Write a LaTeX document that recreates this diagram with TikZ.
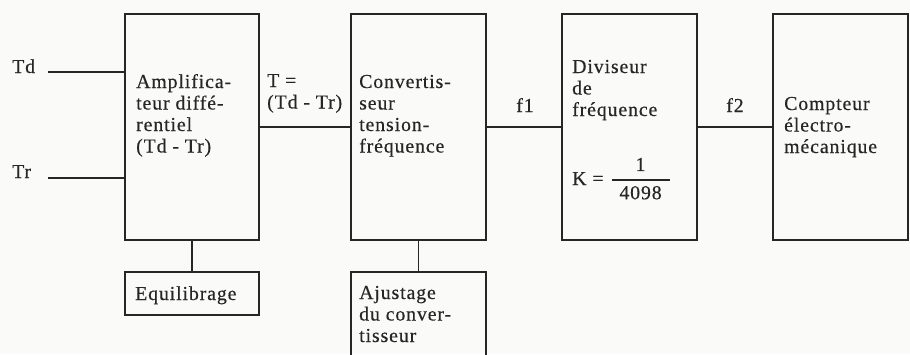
\documentclass[tikz,border=0pt]{standalone}
\usepackage{fontspec}
\setmainfont{Liberation Serif}[LetterSpace=4.5,FakeBold=0.4]
\definecolor{ink}{HTML}{262626}
\definecolor{paper}{HTML}{FAFAF8}
\begin{document}
\begin{tikzpicture}[x=1pt,y=-1pt,
  box/.style={draw=ink, line width=1.7pt, rectangle, anchor=north west, inner sep=0pt},
  wire/.style={draw=ink, line width=1.7pt},
  lbl/.style={text=ink, inner sep=0pt, font=\fontsize{19.8}{21.5}\selectfont, anchor=base west},
]
\fill[paper] (0,0) rectangle (910,354);
\useasboundingbox (0,0) rectangle (910,354);
\clip (0,0) rectangle (910,354);
% boxes
\node[box, minimum width=134pt, minimum height=226pt] (amp) at (124,13) {};
\node[box, minimum width=134pt, minimum height=43pt] (eq) at (124,271) {};
\node[box, minimum width=135pt, minimum height=226pt] (conv) at (350,13) {};
\node[box, minimum width=135pt, minimum height=110pt] (aj) at (350,271) {};
\node[box, minimum width=135pt, minimum height=226pt] (div) at (561,13) {};
\node[box, minimum width=135pt, minimum height=226pt] (cnt) at (772,13) {};
% inputs
\coordinate (tdin) at (48,72);
\coordinate (trin) at (48,178);
\draw[wire] (tdin) -- (tdin -| amp.west);
\draw[wire] (trin) -- (trin -| amp.west);
% connectors
\draw[wire] (amp.east) -- (conv.west);
\draw[wire] (conv.east) -- (div.west);
\draw[wire] (div.east) -- (cnt.west);
\draw[wire] (amp.south) -- (eq.north);
\draw[wire] (conv.south) -- (aj.north);
% labels
\node[lbl] (td) at (12,73) {Td};
\node[lbl] (tr) at (12,178) {Tr};
\node[lbl] (amptext) at (136,88) {\begin{tabular}[t]{@{}l@{}}Amplifica-\\teur diffé-\\rentiel\\(Td - Tr)\end{tabular}};
\node[lbl] (tlabel) at (267,87) {\begin{tabular}[t]{@{}l@{}}T =\\(Td - Tr)\end{tabular}};
\node[lbl] (convtext) at (359,88) {\begin{tabular}[t]{@{}l@{}}Convertis-\\seur\\tension-\\fréquence\end{tabular}};
\node[lbl] (divtext) at (572,73) {\begin{tabular}[t]{@{}l@{}}Diviseur\\de\\fréquence\end{tabular}};
\node[lbl] (ktext) at (572,185) {K = \hspace{1pt}$\displaystyle{\mbox{1}\above 1.4pt \makebox[58pt]{4098}}$};
\node[lbl] (cnttext) at (784,110) {\begin{tabular}[t]{@{}l@{}}Compteur\\électro-\\mécanique\end{tabular}};
\node[lbl] (eqtext) at (135,300) {Equilibrage};
\node[lbl] (ajtext) at (359,299) {\begin{tabular}[t]{@{}l@{}}Ajustage\\du conver-\\tisseur\end{tabular}};
\node[lbl, anchor=base] (f1) at (525,112) {f1};
\node[lbl, anchor=base] (f2) at (735,112) {f2};
\end{tikzpicture}
\end{document}
